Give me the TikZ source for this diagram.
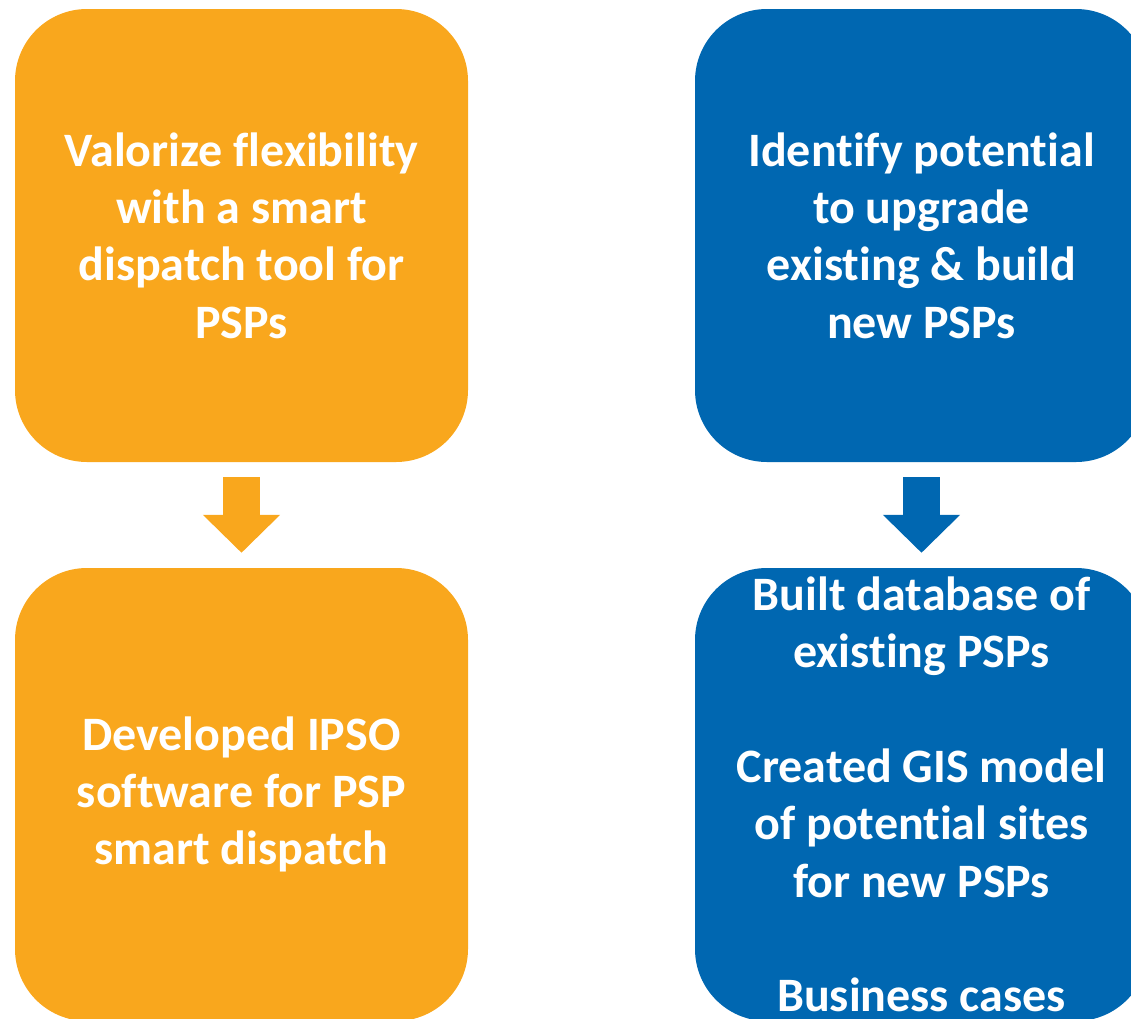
\documentclass[tikz,border=0pt]{standalone}
\usepackage{fontspec}
\setmainfont{Carlito}[Ligatures=NoCommon]
\usetikzlibrary{arrows.meta}
\definecolor{psporange}{RGB}{249,167,29}
\definecolor{pspblue}{RGB}{0,103,177}
\begin{document}
\begin{tikzpicture}[x=1pt,y=-1pt,
  box/.style={rounded corners=72pt, minimum width=453pt, minimum height=453pt,
    inner sep=0pt, align=center, text=white,
    font=\fontsize{48}{57.3}\selectfont\bfseries},
  flow/.style={line width=37pt, -{Triangle[width=75pt,length=38pt]},
    shorten <=15pt, shorten >=15pt}]
\useasboundingbox (0,0) rectangle (1131,1018);
\clip (0,0) rectangle (1131,1018);
\node[box, fill=psporange] (a) at (241.5,235.5)
  {Valorize flexibility\\with a smart\\dispatch tool for\\PSPs};
\node[box, fill=psporange] (b) at (241.5,794.5)
  {Developed IPSO\\software for PSP\\smart dispatch};
\node[box, fill=pspblue] (c) at (921.5,235.5)
  {Identify potential\\to upgrade\\existing \& build\\new PSPs};
\node[box, fill=pspblue] (d) at (921.5,794.5)
  {Built database of\\existing PSPs\\[57.3pt]Created GIS model\\of potential sites\\for new PSPs\\[57.3pt]Business cases};
\draw[flow, psporange] (a.south) -- (b.north);
\draw[flow, pspblue] (c.south) -- (d.north);
\end{tikzpicture}
\end{document}
